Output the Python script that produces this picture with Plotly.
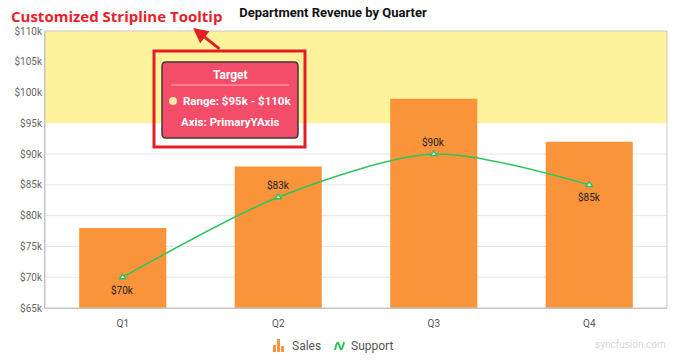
import plotly.graph_objects as go

quarters = ["Q1", "Q2", "Q3", "Q4"]
sales = [78, 88, 99, 92]
support = [70, 83, 90, 85]
support_labels = ["$70k", "$83k", "$90k", "$85k"]
support_label_side = [-1, 1, 1, -1]
y_ticks = [65, 70, 75, 80, 85, 90, 95, 100, 105, 110]
y_tick_text = ["$%dk" % v for v in y_ticks]
strip_start, strip_end = 95, 110

W, H = 681, 362
L, R, T, B = 45, 14, 31, 54
PW, PH = W - L - R, H - T - B
ORANGE, GREEN = "#F9943B", "#2DC45C"


def px(x):
    return (x - L) / PW


def py(y):
    return (H - B - y) / PH


fig = go.Figure()
fig.add_trace(go.Bar(
    x=quarters, y=[v - 65 for v in sales], base=65, name="Sales",
    marker=dict(color=ORANGE, line=dict(width=0)), width=0.56,
    hoverinfo="skip"))
fig.add_trace(go.Scatter(
    x=quarters, y=support, name="Support", mode="lines+markers",
    line=dict(color=GREEN, width=1.5, shape="spline", smoothing=0.8),
    marker=dict(symbol="triangle-up", size=6, color="white", line=dict(width=1.5, color=GREEN))))

# gridlines (hidden under the stripline)
shapes = [
    dict(type="line", xref="paper", yref="y", x0=0, x1=1, y0=t, y1=t,
         line=dict(color="#E6E6E6", width=1), layer="below")
    for t in y_ticks if t < strip_start and t > y_ticks[0]
]
shapes += [
    dict(type="rect", xref="paper", yref="y", x0=0, x1=1, y0=strip_start, y1=strip_end,
         fillcolor="#FFF29D", line=dict(width=0), layer="below"),
    dict(type="rect", xref="paper", yref="paper", x0=0, x1=1, y0=0, y1=1,
         line=dict(color="#C8C8C8", width=1), layer="above"),
    # red highlight box
    dict(type="rect", xref="paper", yref="paper", x0=px(154), x1=px(305), y0=py(51), y1=py(147),
         line=dict(color="#E31E24", width=3), fillcolor="rgba(255,255,255,0)"),
]
# tooltip rounded rect
x0, x1, y0, y1, r = 162, 298, 62, 138, 4
path = (f"M {px(x0 + r)},{py(y0)} L {px(x1 - r)},{py(y0)} Q {px(x1)},{py(y0)} {px(x1)},{py(y0 + r)} "
        f"L {px(x1)},{py(y1 - r)} Q {px(x1)},{py(y1)} {px(x1 - r)},{py(y1)} "
        f"L {px(x0 + r)},{py(y1)} Q {px(x0)},{py(y1)} {px(x0)},{py(y1 - r)} "
        f"L {px(x0)},{py(y0 + r)} Q {px(x0)},{py(y0)} {px(x0 + r)},{py(y0)} Z")
shapes.append(dict(type="path", xref="paper", yref="paper", path=path,
                   fillcolor="#F44D69", line=dict(color="#3A3A3A", width=1.5)))
shapes.append(dict(type="line", xref="paper", yref="paper", x0=px(171), x1=px(289),
                   y0=py(85), y1=py(85), line=dict(color="#FBB3BF", width=1)))
shapes.append(dict(type="circle", xref="paper", yref="paper", x0=px(169), x1=px(177),
                   y0=py(97), y1=py(105), fillcolor="#FFE9A0", line=dict(width=0)))

# manual legend icons
for bx0, bx1, by0 in [(273, 276, 345), (277, 280, 339), (281, 284, 346)]:
    shapes.append(dict(type="rect", xref="paper", yref="paper", x0=px(bx0), x1=px(bx1),
                       y0=py(352), y1=py(by0), fillcolor=ORANGE, line=dict(width=0)))
shapes.append(dict(type="path", xref="paper", yref="paper",
                   path=(f"M {px(335)},{py(350)} C {px(337)},{py(341)} {px(338)},{py(341)} {px(339.5)},{py(346)} "
                         f"C {px(341)},{py(351)} {px(342)},{py(351)} {px(344)},{py(342)}"),
                   line=dict(color=GREEN, width=2)))

annotations = [
    dict(x=q, y=v, xref="x", yref="y", text=t, showarrow=False, yshift=12.5 * s,
         xanchor="center", yanchor="middle", font=dict(family="Roboto", size=10, color="#222"))
    for q, v, t, s in zip(quarters, support, support_labels, support_label_side)
]
annotations += [
    dict(text="<b>Customized Stripline Tooltip</b>", xref="paper", yref="paper",
         x=px(116), y=py(16), showarrow=False, xanchor="center", yanchor="middle",
         font=dict(family="Open Sans", size=15, color="#E8212B")),
    dict(x=px(193), y=py(28), xref="paper", yref="paper", ax=28, ay=22, text="",
         showarrow=True, arrowhead=2, arrowsize=1, arrowwidth=3, arrowcolor="#E31E24"),
    dict(text="<b>Target</b>", xref="paper", yref="paper", x=px(230), y=py(74.5),
         xanchor="center", yanchor="middle",
         showarrow=False, font=dict(family="Roboto", size=12, color="white")),
    dict(text="<b>Range: $95k - $110k</b>", xref="paper", yref="paper", x=px(181), y=py(101),
         xanchor="left", yanchor="middle",
         showarrow=False, font=dict(family="Roboto", size=11.5, color="white")),
    dict(text="<b>Axis: PrimaryYAxis</b>", xref="paper", yref="paper", x=px(230), y=py(122),
         xanchor="center", yanchor="middle",
         showarrow=False, font=dict(family="Roboto", size=11.5, color="white")),
    dict(text="Sales", xref="paper", yref="paper", x=px(290), y=py(346), xanchor="left",
         yanchor="middle", showarrow=False, font=dict(family="Roboto", size=12, color="#555")),
    dict(text="Support", xref="paper", yref="paper", x=px(349), y=py(346), xanchor="left",
         yanchor="middle", showarrow=False, font=dict(family="Roboto", size=12, color="#555")),
    dict(text="syncfusion.com", xref="paper", yref="paper", x=px(630), y=py(344),
         xanchor="center", yanchor="middle",
         showarrow=False, font=dict(family="Roboto", size=10, color="#D6D6D6")),
]

fig.update_layout(
    width=W, height=H, margin=dict(l=L, r=R, t=T, b=B, autoexpand=False),
    paper_bgcolor="white", plot_bgcolor="white",
    title=dict(text="<b>Department Revenue by Quarter</b>", x=333 / W, xanchor="center",
               y=1 - 12 / H, yanchor="middle", font=dict(family="Roboto", size=13, color="#111")),
    xaxis=dict(type="category", showgrid=False, ticks="", tickfont=dict(family="Roboto", size=10, color="#555"),
               showline=True, linecolor="#BDBDBD", range=[-0.5, 3.5], ticklabelstandoff=6),
    yaxis=dict(range=[65, 110], tickvals=y_ticks, ticktext=y_tick_text, showgrid=False,
               tickfont=dict(family="Roboto", size=10, color="#666"), zeroline=False,
               showline=True, linecolor="#BDBDBD", ticks=""),
    shapes=shapes, annotations=annotations, showlegend=False,
)
fig.write_html("out.html", config={"displayModeBar": False},
               post_script="document.body.style.margin='0';document.body.style.padding='0';")
